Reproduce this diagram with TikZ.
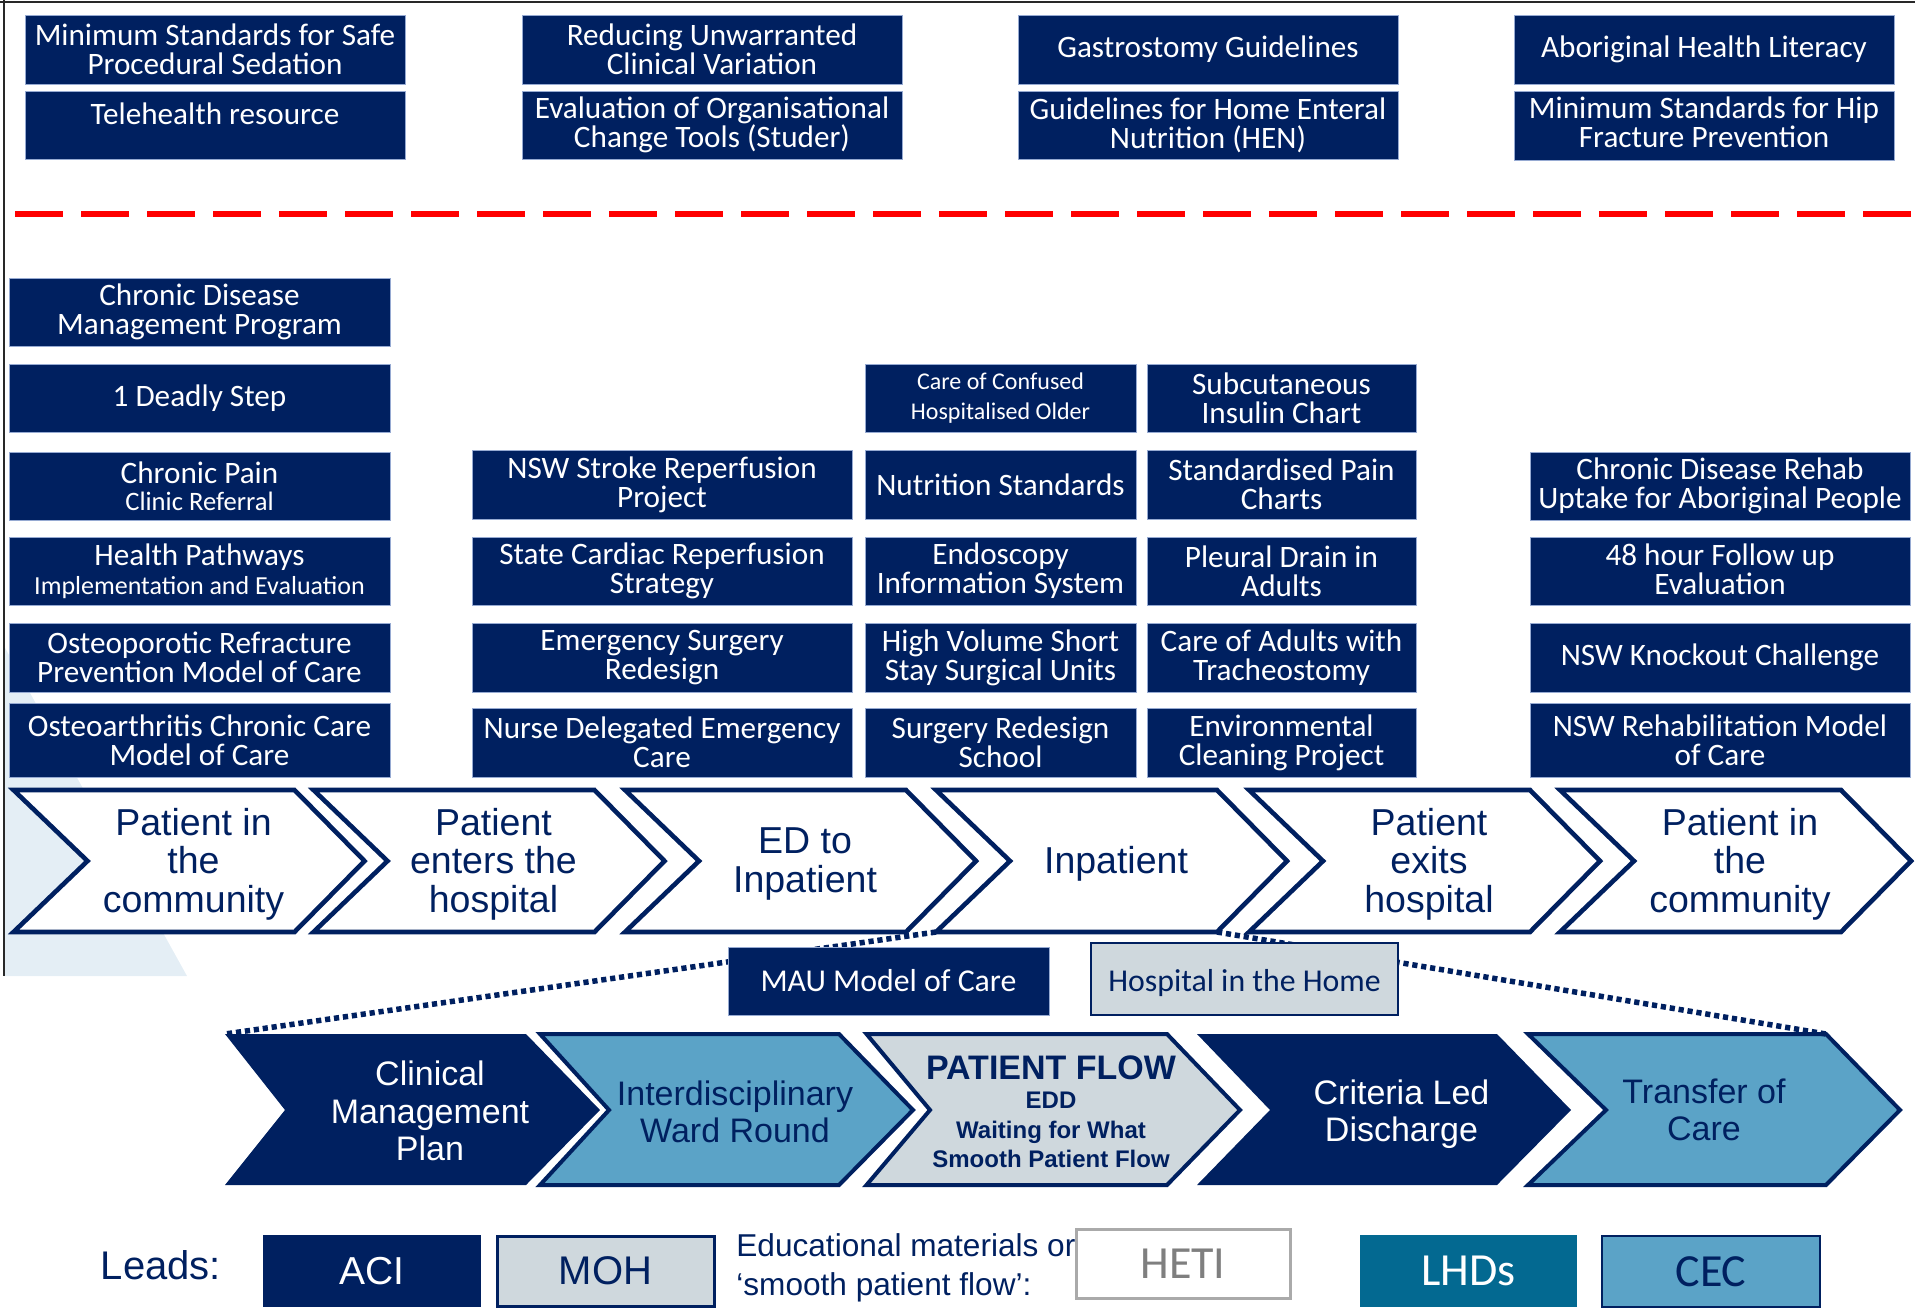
\documentclass[tikz,border=0pt]{standalone}
\usepackage{fontspec}
\setmainfont{Carlito}
\newfontfamily\arialfont{Liberation Sans}

\definecolor{navy}{RGB}{0,32,96}
\definecolor{sky}{RGB}{91,163,199}
\definecolor{mist}{RGB}{207,216,221}
\definecolor{lhdblue}{RGB}{3,105,145}
\definecolor{boxedge}{RGB}{150,170,210}
\definecolor{wash}{RGB}{228,238,245}
\definecolor{hetiedge}{RGB}{170,170,170}
\definecolor{hetitext}{RGB}{127,127,127}
\definecolor{framegrey}{RGB}{40,40,40}
\definecolor{divider}{RGB}{255,0,0}

% rectangular panel given by its two corners (pixel grid)
\newcommand\panel[7]{%
  \node[#1, minimum width={((#5)-(#3))*0.5pt}, minimum height={((#6)-(#4))*0.5pt}]
    (#2) at ({((#3)+(#5))/2},{((#4)+(#6))/2}) {#7};}

% outlined stage of the patient journey: name, left x, label
\newcommand\stage[3]{%
  \draw[stageshape] (#2,790) coordinate (#1-nw) -- ({#2+281},790) coordinate (#1-ne)
    -- ({#2+351},861) -- ({#2+281},932) coordinate (#1-se)
    -- (#2,932) coordinate (#1-sw) -- ({#2+74},861) -- cycle;
  \node[stagetext] (#1) at ({#2+180},864) {#3};}

% filled step of the patient flow: style, name, left, notch, corner, tip
\newcommand\flowstep[6]{%
  \draw[#1] (#3,1034) coordinate (#2-nw) -- (#5,1034) coordinate (#2-ne)
    -- (#6,1110) -- (#5,1185) -- (#3,1185) -- (#4,1110) -- cycle;}

\begin{document}
\begin{tikzpicture}[x=0.5pt,y=-0.5pt,
  navybox/.style={fill=navy, draw=boxedge, line width=0.4pt, text=white,
    inner sep=0pt, align=center, font=\fontsize{15.6}{14.6}\selectfont},
  plainlabel/.style={inner sep=0pt, align=center},
  stageshape/.style={fill=white, draw=navy, line width=2.3pt, miter limit=10},
  stagetext/.style={text=navy, align=center, inner sep=0pt,
    font=\arialfont\fontsize{18.75}{19.25}\selectfont},
  darkstep/.style={fill=navy, draw=none},
  skystep/.style={fill=sky, draw=navy, line width=2pt, miter limit=10},
  miststep/.style={fill=mist, draw=navy, line width=2pt, miter limit=10},
  steptext/.style={align=center, inner sep=0pt,
    font=\arialfont\fontsize{17}{18.75}\selectfont},
  flowbold/.style={anchor=base, inner sep=0pt, text=navy,
    font=\arialfont\bfseries\fontsize{17}{19}\selectfont},
  flowsub/.style={anchor=base, inner sep=0pt, text=navy,
    font=\arialfont\bfseries\fontsize{12}{14}\selectfont},
  dotlink/.style={draw=navy, line width=2.75pt, dash pattern=on 2.6pt off 1.9pt},
  legendbox/.style={inner sep=0pt, align=center}]

\useasboundingbox (0,0) rectangle (1921,1307);

% background wash and frame
\fill[wash] (4,646) -- (187,976) -- (4,976) -- cycle;
\draw[framegrey, line width=1pt] (0,1.5) -- (1915,1.5);
\draw[framegrey, line width=0.8pt] (4,0) -- (4,976);

% ---- statewide projects -------------------------------------------------
\panel{navybox}{sedation}{25}{15}{405}{84}{Minimum Standards for Safe\\Procedural Sedation}
\panel{navybox}{telehealth}{25}{91}{405}{159}{}
\node[plainlabel, text=white, font=\fontsize{15.6}{14.6}\selectfont] (teletxt) at (215,114) {Telehealth resource};
\panel{navybox}{variation}{522}{15}{902}{84}{Reducing Unwarranted\\Clinical Variation}
\panel{navybox}{studer}{522}{91}{902}{159}{Evaluation of Organisational\\Change Tools (Studer)}
\panel{navybox}{gastro}{1018}{15}{1398}{84}{Gastrostomy Guidelines}
\panel{navybox}{hen}{1018}{91}{1398}{159}{Guidelines for Home Enteral\\Nutrition (HEN)}
\panel{navybox}{literacy}{1514}{15}{1894}{84}{Aboriginal Health Literacy}
\panel{navybox}{hip}{1514}{91}{1894}{160}{}
\node[plainlabel, text=white, font=\fontsize{15.6}{14.6}\selectfont] (hiptxt) at (1704,122) {Minimum Standards for Hip\\Fracture Prevention};

\draw[divider, line width=3.25pt, dash pattern=on 24pt off 9pt] (15,214) -- (1912,214);

% ---- column: patient in the community -------------------------------------
\panel{navybox}{cdmp}{9}{278}{390}{346}{Chronic Disease\\Management Program}
\panel{navybox}{deadly}{9}{364}{390}{432}{1 Deadly Step}
\panel{navybox}{pain}{9}{452}{390}{520}{Chronic Pain\\[-1pt]{\fontsize{13.3}{15}\selectfont Clinic Referral}}
\panel{navybox}{pathways}{9}{537}{390}{605}{Health Pathways\\[0pt]{\fontsize{13}{15}\selectfont Implementation and Evaluation}}
\panel{navybox}{refracture}{9}{623}{390}{692}{Osteoporotic Refracture\\Prevention Model of Care}
\panel{navybox}{osteo}{9}{703}{390}{777}{Osteoarthritis Chronic Care\\Model of Care}

% ---- column: patient enters the hospital ----------------------------------
\panel{navybox}{stroke}{472}{450}{852}{519}{NSW Stroke Reperfusion\\Project}
\panel{navybox}{cardiac}{472}{537}{852}{605}{State Cardiac Reperfusion\\Strategy}
\panel{navybox}{surgery}{472}{623}{852}{692}{Emergency Surgery\\Redesign}
\panel{navybox}{nurse}{472}{708}{852}{777}{Nurse Delegated Emergency\\Care}

% ---- columns: inpatient ----------------------------------------------------
\panel{navybox}{confused}{865}{364}{1136}{432}{{\fontsize{12}{14.7}\selectfont Care of Confused}\\{\fontsize{12}{14.7}\selectfont Hospitalised Older}}
\panel{navybox}{nutrition}{865}{450}{1136}{519}{Nutrition Standards}
\panel{navybox}{endoscopy}{865}{537}{1136}{605}{Endoscopy\\Information System}
\panel{navybox}{shortstay}{865}{623}{1136}{692}{High Volume Short\\Stay Surgical Units}
\panel{navybox}{school}{865}{708}{1136}{777}{Surgery Redesign\\School}
\panel{navybox}{insulin}{1147}{364}{1416}{432}{Subcutaneous\\Insulin Chart}
\panel{navybox}{paincharts}{1147}{450}{1416}{519}{Standardised Pain\\Charts}
\panel{navybox}{pleural}{1147}{537}{1416}{605}{Pleural Drain in\\Adults}
\panel{navybox}{trach}{1147}{623}{1416}{692}{Care of Adults with\\Tracheostomy}
\panel{navybox}{cleaning}{1147}{708}{1416}{777}{Environmental\\Cleaning Project}

% ---- column: back in the community ----------------------------------------
\panel{navybox}{rehab}{1530}{452}{1910}{520}{Chronic Disease Rehab\\Uptake for Aboriginal People}
\panel{navybox}{followup}{1530}{537}{1910}{605}{}
\node[plainlabel, text=white, font=\fontsize{15.6}{14.6}\selectfont] (followtxt) at (1720,569) {48 hour Follow up\\Evaluation};
\panel{navybox}{knockout}{1530}{623}{1910}{692}{NSW Knockout Challenge}
\panel{navybox}{rehabmodel}{1530}{703}{1910}{777}{NSW Rehabilitation Model\\of Care}

% ---- patient journey -------------------------------------------------------
\stage{st1}{13.5}{Patient in\\the\\community}
\stage{st2}{313.5}{Patient\\enters the\\hospital}
\stage{st3}{625}{ED to\\Inpatient}
\stage{st4}{936}{Inpatient}
\stage{st5}{1249}{Patient\\exits\\hospital}
\stage{st6}{1560}{Patient in\\the\\community}

% ---- patient flow steps ----------------------------------------------------
\flowstep{darkstep}{fa}{225}{285}{526}{600}
\flowstep{skystep}{fb}{540}{609}{839}{913}
\flowstep{miststep}{fc}{866.5}{930}{1167}{1240}
\flowstep{darkstep}{fd}{1197}{1270}{1497}{1571}
\flowstep{skystep}{fe}{1528}{1606}{1826}{1900}

\draw[dotlink] (st4-sw) -- (fa-nw);
\draw[dotlink] (st4-se) -- (fe-ne);

\node[steptext, text=white] (cmp) at (430,1111) {Clinical\\Management\\Plan};
\node[steptext, text=navy] (iwr) at (735,1112) {Interdisciplinary\\Ward Round};
\node[flowbold] (pflow) at (1051,1079) {PATIENT FLOW};
\node[flowsub] (edd) at (1051,1108.5) {EDD};
\node[flowsub] (wfw) at (1051,1138) {Waiting for What};
\node[flowsub] (spf) at (1051,1167.5) {Smooth Patient Flow};
\node[steptext, text=white] (cld) at (1401.5,1114) {Criteria Led\\Discharge};
\node[steptext, text=navy] (toc) at (1704,1110) {Transfer of\\Care};

\panel{navybox, font=\fontsize{15.9}{17}\selectfont}{mau}{728}{947}{1049}{1015}{MAU Model of Care}
\panel{legendbox, fill=mist, draw=navy, line width=1.2pt, text=navy, font=\fontsize{15.9}{17}\selectfont}{hith}{1091}{943}{1398}{1015}{}
\node[plainlabel, text=navy, font=\fontsize{15.9}{17}\selectfont] (hithtxt) at (1244.5,983) {Hospital in the Home};

% ---- legend ----------------------------------------------------------------
\node[plainlabel, text=navy, font=\arialfont\fontsize{20}{22}\selectfont] (leads) at (161,1265) {Leads:};
\panel{legendbox, fill=navy, text=white, font=\arialfont\fontsize{19.5}{21}\selectfont}{aci}{263}{1235}{481}{1307}{ACI}
\panel{legendbox, fill=mist, draw=navy, line width=1.5pt, text=navy, font=\arialfont\fontsize{20}{21}\selectfont}{moh}{497}{1236}{714}{1306}{MOH}
\node[anchor=west, inner sep=0pt, align=left, text=navy,
  font=\arialfont\fontsize{15.8}{19.5}\selectfont] (edu) at (736,1268)
  {Educational materials or\\‘smooth patient flow’:};
\panel{legendbox, fill=white, draw=hetiedge, line width=1.5pt, text=hetitext, font=\fontsize{23}{25}\selectfont}{heti}{1076}{1229}{1290}{1298}{HETI}
\panel{legendbox, fill=lhdblue, text=white, font=\fontsize{23}{25}\selectfont}{lhd}{1360}{1235}{1577}{1307}{LHDs}
\panel{legendbox, fill=sky, draw=navy, line width=1pt, text=navy, font=\fontsize{23}{25}\selectfont}{cec}{1602}{1236}{1820}{1307}{CEC}

\end{tikzpicture}
\end{document}
